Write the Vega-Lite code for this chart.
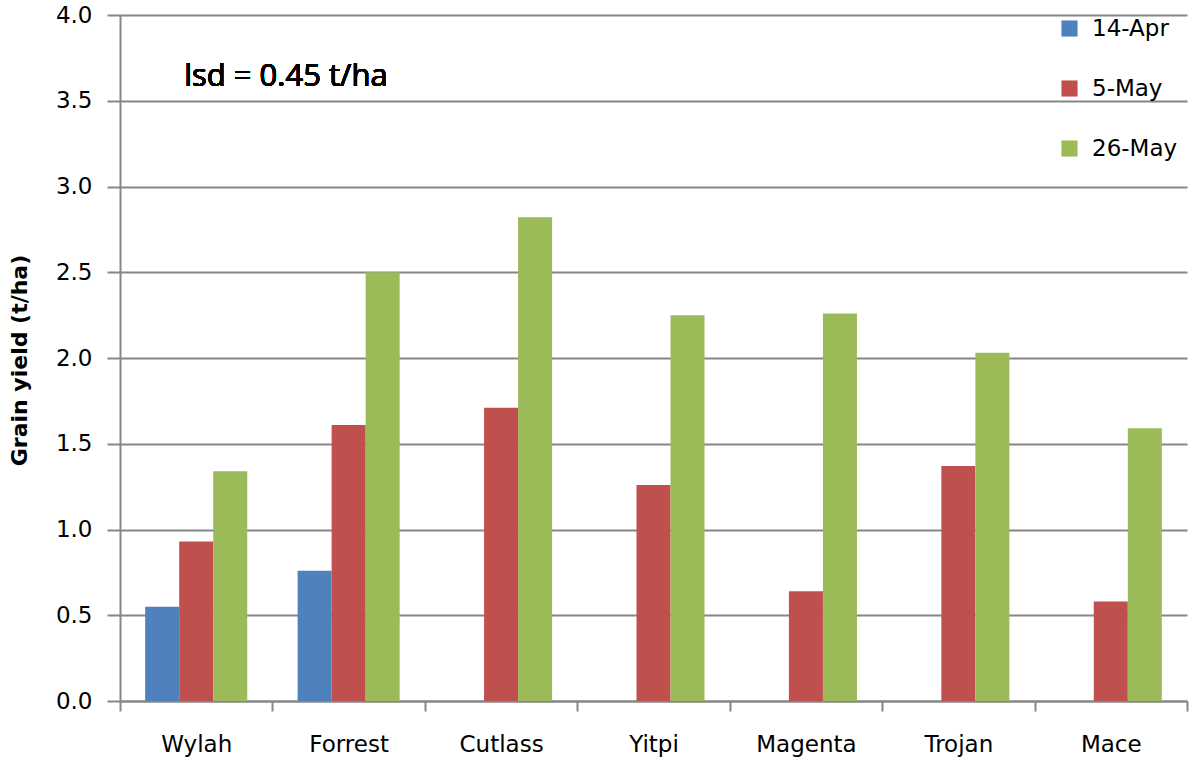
{
  "$schema": "https://vega.github.io/schema/vega-lite/v6.json",
  "width": 1067,
  "height": 686,
  "autosize": {"type": "none"},
  "padding": {"left": 120, "top": 15, "right": 5, "bottom": 61},
  "background": "white",
  "config": {
    "view": {"stroke": null},
    "font": "DejaVu Sans"
  },
  "data": {
    "values": [
      {"variety": "Wylah", "date": "14-Apr", "yield": 0.55},
      {"variety": "Wylah", "date": "5-May", "yield": 0.93},
      {"variety": "Wylah", "date": "26-May", "yield": 1.34},
      {"variety": "Forrest", "date": "14-Apr", "yield": 0.76},
      {"variety": "Forrest", "date": "5-May", "yield": 1.61},
      {"variety": "Forrest", "date": "26-May", "yield": 2.5},
      {"variety": "Cutlass", "date": "5-May", "yield": 1.71},
      {"variety": "Cutlass", "date": "26-May", "yield": 2.82},
      {"variety": "Yitpi", "date": "5-May", "yield": 1.26},
      {"variety": "Yitpi", "date": "26-May", "yield": 2.25},
      {"variety": "Magenta", "date": "5-May", "yield": 0.64},
      {"variety": "Magenta", "date": "26-May", "yield": 2.26},
      {"variety": "Trojan", "date": "5-May", "yield": 1.37},
      {"variety": "Trojan", "date": "26-May", "yield": 2.03},
      {"variety": "Mace", "date": "5-May", "yield": 0.58},
      {"variety": "Mace", "date": "26-May", "yield": 1.59}
    ]
  },
  "layer": [
    {
      "mark": {"type": "bar"},
      "encoding": {
        "x": {
          "field": "variety",
          "type": "nominal",
          "sort": ["Wylah", "Forrest", "Cutlass", "Yitpi", "Magenta", "Trojan", "Mace"],
          "scale": {"paddingInner": 0, "paddingOuter": 0},
          "axis": {
            "title": null,
            "labelAngle": 0,
            "labelFontSize": 23,
            "labelColor": "#000000",
            "labelPadding": 22,
            "tickBand": "extent",
            "tickSize": 10,
            "tickColor": "#868686",
            "tickWidth": 2,
            "domainColor": "#868686",
            "domainWidth": 2,
            "grid": false
          }
        },
        "xOffset": {
          "field": "date",
          "type": "nominal",
          "scale": {"domain": ["14-Apr", "5-May", "26-May"], "paddingInner": 0, "paddingOuter": 0.74}
        },
        "y": {
          "field": "yield",
          "type": "quantitative",
          "scale": {"domain": [0, 4]},
          "axis": {
            "title": "Grain yield (t/ha)",
            "titleFontSize": 22,
            "titleFontWeight": "bold",
            "titleColor": "#000000",
            "titleX": -101,
            "titleY": 345,
            "titleAlign": "center",
            "titleBaseline": "middle",
            "titleAngle": -90,
            "values": [0, 0.5, 1, 1.5, 2, 2.5, 3, 3.5, 4],
            "format": ".1f",
            "labelFontSize": 23,
            "labelColor": "#000000",
            "labelPadding": 15,
            "tickSize": 13,
            "tickColor": "#868686",
            "tickWidth": 2,
            "domainColor": "#868686",
            "domainWidth": 2,
            "grid": true,
            "gridColor": "#868686",
            "gridWidth": 2
          }
        },
        "color": {
          "field": "date",
          "type": "nominal",
          "scale": {
            "domain": ["14-Apr", "5-May", "26-May"],
            "range": ["#4F81BD", "#C0504D", "#9BBB59"]
          },
          "legend": {
            "title": null,
            "orient": "none",
            "legendX": 938,
            "legendY": 2,
            "symbolType": "square",
            "symbolSize": 260,
            "symbolStrokeWidth": 0,
            "labelFontSize": 23,
            "labelColor": "#000000",
            "labelOffset": 11,
            "rowPadding": 36
          }
        }
      }
    },
    {
      "mark": {"type": "text", "align": "left", "baseline": "middle", "fontSize": 31, "font": "Open Sans", "dx": -12, "color": "#000000"},
      "encoding": {
        "x": {"datum": "Wylah", "type": "nominal"},
        "y": {"datum": 3.64, "type": "quantitative"},
        "text": {"value": "lsd = 0.45 t/ha"}
      }
    }
  ]
}
